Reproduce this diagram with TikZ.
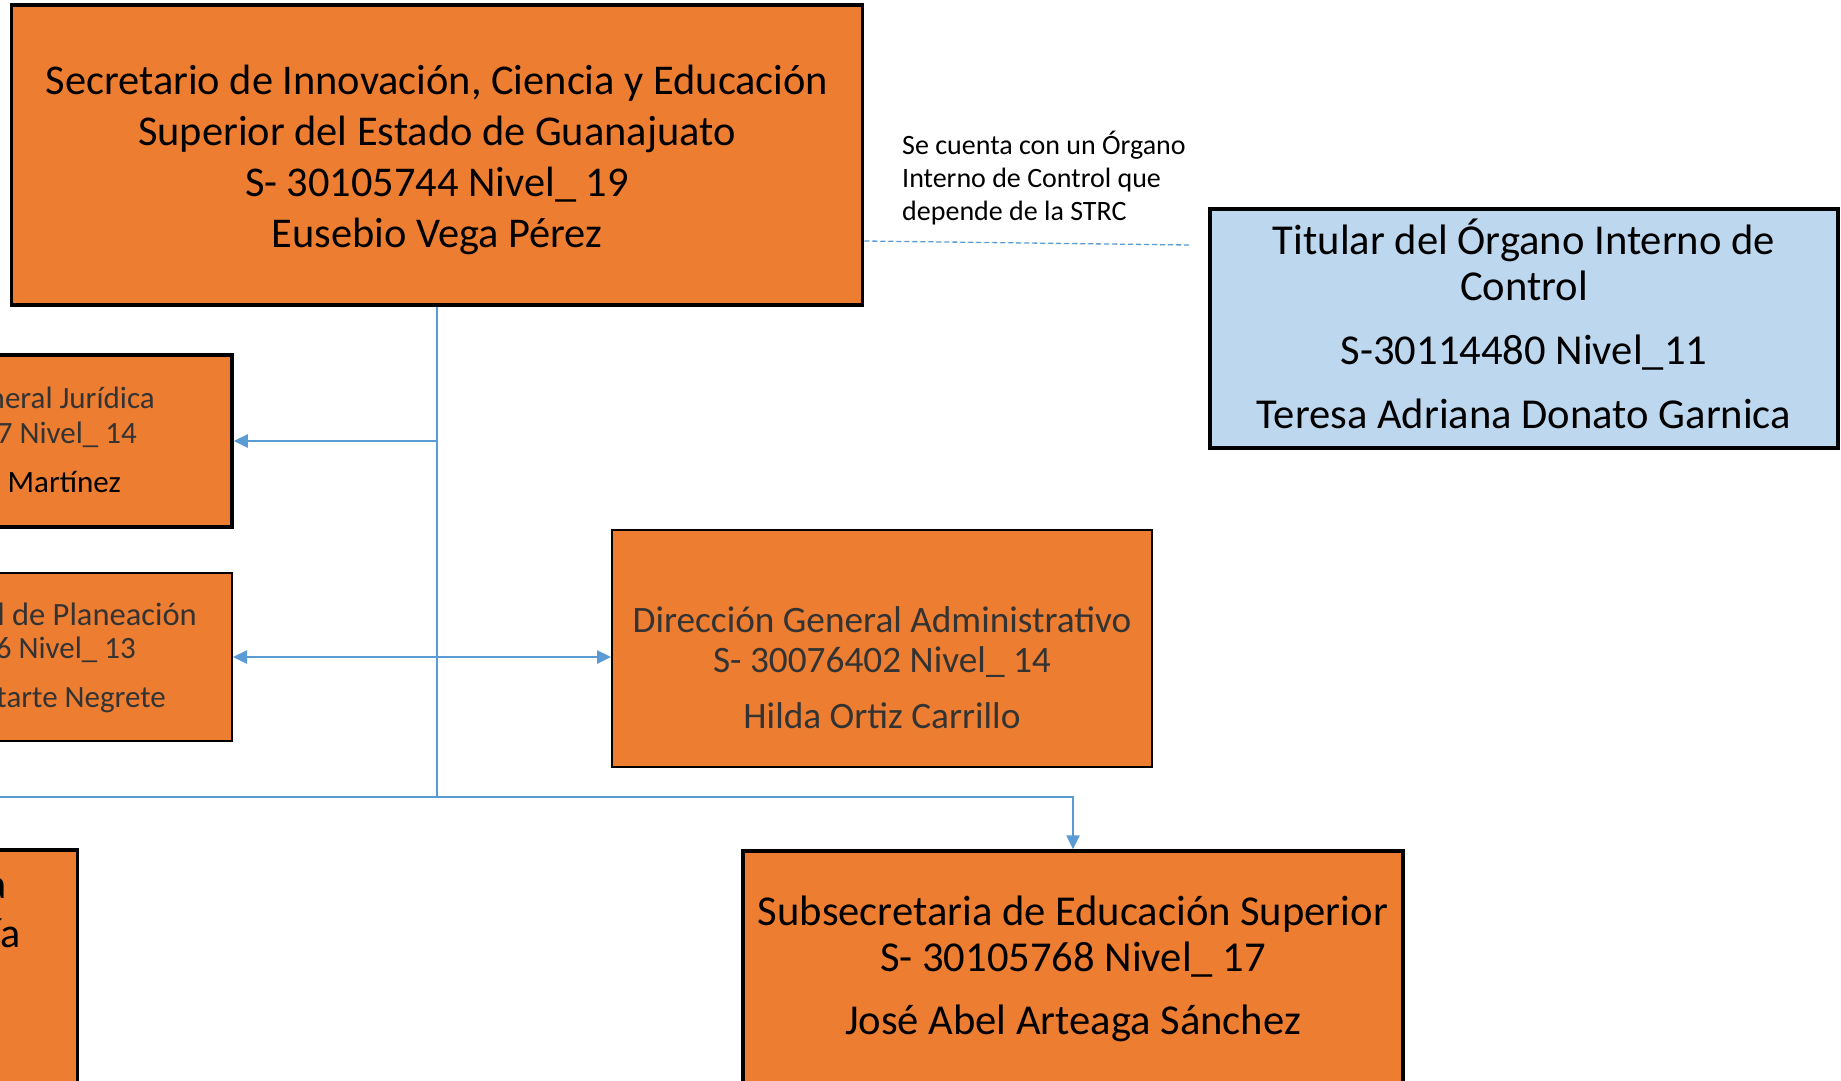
\documentclass[tikz,border=0pt]{standalone}
\usepackage{fontspec}
\setmainfont{Carlito}
\usetikzlibrary{arrows.meta}
\definecolor{naranja}{HTML}{ED7D31}
\definecolor{azul}{HTML}{5B9BD5}
\definecolor{celeste}{HTML}{BDD7EE}
\definecolor{gristxt}{HTML}{333333}
\begin{document}
\begin{tikzpicture}[x=1pt,y=-1pt,
	puesto/.style={draw=black,fill=naranja,line width=3.5pt,inner sep=0pt},
	delgado/.style={puesto,line width=2pt},
	rotulo/.style={align=center,inner sep=0pt,font=\fontsize{42.4}{51}\selectfont},
	corte/.style={anchor=base east,inner sep=0pt,font=\fontsize{31}{35}\selectfont},
	enlace/.style={azul,line width=2.5pt},
	flecha/.style={enlace,-{Triangle[length=14pt,width=13pt]}}]
					\clip (0,0) rectangle (1841,1080);
					\fill[white] (0,0) rectangle (1841,1080);
					\node[puesto,minimum width=851pt,minimum height=300pt] (sec) at (437,155) {};
					\node[rotulo] (sect) at ([yshift=-5pt]sec.center) {Secretario de Innovación, Ciencia y Educación\\Superior del Estado de Guanajuato\\S- 30105744 Nivel\_ 19\\Eusebio Vega Pérez};
					\node[puesto,fill=celeste,minimum width=628pt,minimum height=239pt] (oic) at (1524,328.5) {};
					\node[rotulo,font=\fontsize{42.6}{46}\selectfont] (oict) at ([yshift=5pt]oic.center) {Titular del Órgano Interno de\\Control\\[18pt]S-30114480 Nivel\_11\\[18pt]Teresa Adriana Donato Garnica};
					\node[anchor=north west,align=left,inner sep=0pt,font=\fontsize{28}{33}\selectfont] (nota) at (902,131) {Se cuenta con un Órgano\\Interno de Control que\\depende de la STRC};
					\node[puesto,minimum width=532pt,minimum height=172pt] (jur) at (-34,441) {};
					\node[delgado,minimum width=532pt,minimum height=168pt] (pla) at (-34,657) {};
					\node[delgado,minimum width=540pt,minimum height=237pt] (dir) at (882,648.5) {};
					\node[rotulo,text=gristxt,font=\fontsize{37.3}{40}\selectfont] (dirt) at ([yshift=-19pt]dir.center) {Dirección General Administrativo\\S- 30076402 Nivel\_ 14\\[16pt]Hilda Ortiz Carrillo};
					\node[puesto,minimum width=660pt,minimum height=249pt] (sub) at (1073,975.5) {};
					\node[rotulo,font=\fontsize{42.6}{46}\selectfont] (subt) at ([yshift=6.5pt]sub.center) {Subsecretaria de Educación Superior\\S- 30105768 Nivel\_ 17\\[17pt]José Abel Arteaga Sánchez};
					\node[puesto,minimum width=477pt,minimum height=300pt] (ver) at (-161,1000) {};
					\node[corte,text=gristxt] (jur1) at (155,408) {neral Jurídica};
					\node[corte,text=gristxt] (jur2) at (137,443) {7 Nivel\_ 14};
					\node[corte] (jur3) at (121,492) {Martínez};
					\node[corte,text=gristxt,font=\fontsize{32.5}{35}\selectfont] (pla1) at (197,625) {al de Planeación};
					\node[corte,text=gristxt] (pla2) at (136,658) {6 Nivel\_ 13};
					\node[corte,text=gristxt] (pla3) at (166,707) {tarte Negrete};
					\node[corte,font=\fontsize{42}{49}\selectfont] (ver1) at (7,898) {a};
					\node[corte,font=\fontsize{42}{49}\selectfont] (ver2) at (21,947) {ía};
					\coordinate (nudo) at (sec.south |- 0,797);
					\coordinate (izq) at (-5,797);
					\coordinate (fin) at (1190,245);
					\draw[enlace] (sec.south) -- (nudo) -- (izq);
					\draw[flecha] (nudo) -| (sub.north);
					\draw[flecha] (sec.south |- jur.east) -- (jur.east);
					\draw[flecha] (sec.south |- pla.east) -- (pla.east);
					\draw[flecha] (sec.south |- pla.east) -- (pla.east -| dir.west);
					\draw[azul,line width=1.3pt,dash pattern=on 5pt off 3pt] ([yshift=-86pt]sec.east) -- (fin);
				\end{tikzpicture}
\end{document}
